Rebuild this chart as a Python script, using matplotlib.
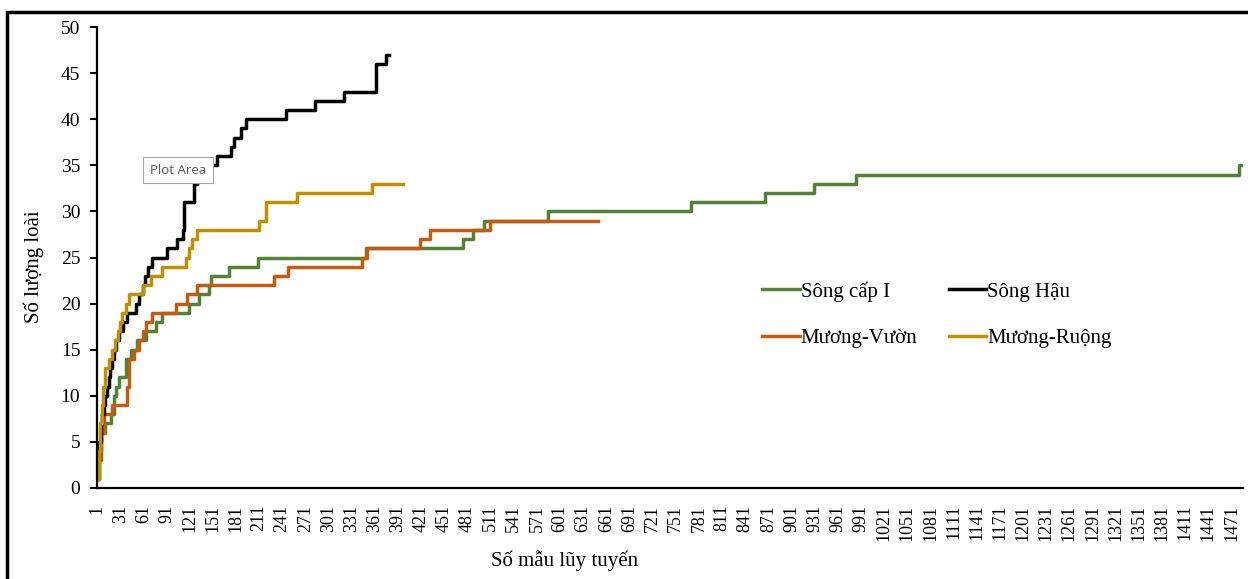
import matplotlib.pyplot as plt
from matplotlib.patches import Rectangle

# change points of the species accumulation curves (sample no., species count)
song_cap_x = [1, 3, 6, 12, 19, 23, 26, 29, 38, 45, 53, 65, 78, 85, 120, 133, 146, 149, 172, 209,
              350, 475, 488, 503, 585, 771, 866, 930, 985, 1481, 1483]
song_cap_y = [1, 4, 6, 7, 8, 10, 11, 12, 14, 15, 16, 17, 18, 19, 20, 21, 22, 23, 24, 25,
              26, 27, 28, 29, 30, 31, 32, 33, 34, 35, 35]

song_hau_x = [1, 2, 4, 6, 8, 10, 12, 14, 16, 18, 21, 23, 26, 30, 35, 40, 51, 56, 60, 63,
              67, 72, 92, 105, 112, 114, 127, 130, 157, 175, 179, 187, 194, 246, 283, 321, 363, 376, 380]
song_hau_y = [1, 3, 5, 7, 8, 9, 10, 11, 12, 13, 14, 15, 16, 17, 18, 19, 20, 21, 22, 23,
              24, 25, 26, 27, 28, 31, 33, 35, 36, 37, 38, 39, 40, 41, 42, 43, 46, 47, 47]

muong_vuon_x = [1, 3, 6, 10, 20, 40, 43, 49, 55, 60, 65, 72, 103, 118, 131, 231, 248, 344, 351,
                419, 432, 510, 650]
muong_vuon_y = [1, 3, 6, 8, 9, 11, 14, 15, 16, 17, 18, 19, 20, 21, 22, 23, 24, 25, 26,
                27, 28, 29, 29]

muong_ruong_x = [1, 3, 5, 7, 9, 12, 16, 20, 24, 28, 31, 34, 38, 42, 60, 71, 85, 116, 120, 124,
                 131, 211, 220, 260, 357, 398]
muong_ruong_y = [1, 4, 7, 9, 11, 13, 14, 15, 16, 17, 18, 19, 20, 21, 22, 23, 24, 25, 26, 27,
                 28, 29, 31, 32, 33, 33]

xtick_vals = list(range(1, 1472, 30))
serif = ['Liberation Serif', 'DejaVu Serif']

fig = plt.figure(figsize=(12.48, 5.79), dpi=100)
ax = fig.add_axes([97 / 1248, 91 / 579, 1146 / 1248, 461 / 579])

lw = 2.5
l1, = ax.step(song_cap_x, song_cap_y, where='post', color='#548235', lw=lw, label='Sông cấp I')
l3, = ax.step(muong_vuon_x, muong_vuon_y, where='post', color='#C55A11', lw=lw, label='Mương-Vườn')
l2, = ax.step(song_hau_x, song_hau_y, where='post', color='black', lw=lw, label='Sông Hậu')
l4, = ax.step(muong_ruong_x, muong_ruong_y, where='post', color='#BF9000', lw=lw, label='Mương-Ruộng')

ax.set_xlim(1, 1486)
ax.set_ylim(0, 50)
ax.set_yticks(range(0, 51, 5))
ax.set_xticks(xtick_vals)
ax.set_xticklabels([str(v) for v in xtick_vals], rotation=90, family=serif, fontsize=13)
for t in ax.get_yticklabels():
    t.set_family(serif)
ax.tick_params(axis='y', labelsize=14, length=5, width=1.5, direction='out', pad=7)
ax.tick_params(axis='x', length=0, pad=12)

for s in ['top', 'right']:
    ax.spines[s].set_visible(False)
for s in ['left', 'bottom']:
    ax.spines[s].set_linewidth(1.6)

ax.set_xlabel('Số mẫu lũy tuyến', family=serif, fontsize=15)
ax.xaxis.set_label_coords(0.408, -0.135)
ax.set_ylabel('Số lượng loài', family=serif, fontsize=15)
ax.yaxis.set_label_coords(-0.046, 0.479)

leg = ax.legend(handles=[l1, l3, l2, l4], ncol=2, frameon=False, loc='upper left',
                bbox_to_anchor=(762 / 1248, 1 - 281 / 579), bbox_transform=fig.transFigure,
                borderpad=0, borderaxespad=0, handlelength=1.8, handletextpad=0.05,
                columnspacing=1.5, labelspacing=1.3, prop={'family': serif, 'size': 15})

fig.text(178 / 1248, 1 - 170 / 579, 'Plot Area', ha='center', va='center', fontsize=9.5,
         family='Open Sans', color='#595959',
         bbox=dict(boxstyle='square,pad=0.5', fc='white', ec='#a6a6a6', lw=0.8))

fig.add_artist(Rectangle((7 / 1248, -0.1), 1.5, (579 - 12) / 579 + 0.1, transform=fig.transFigure,
                         fill=False, ec='black', lw=2.5))

fig.savefig('out.png', dpi=100)
